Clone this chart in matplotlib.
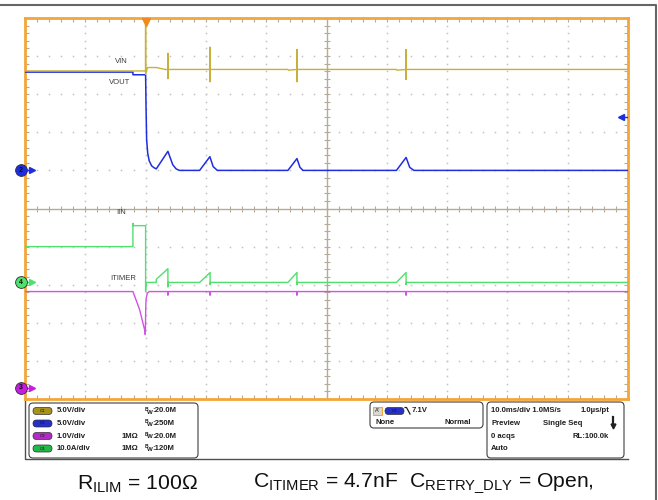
"""Scope capture: hiccup retry during output short (VIN, VOUT, IIN, ITIMER)."""

import numpy as np
import matplotlib
matplotlib.use("Agg")
import matplotlib.pyplot as plt
from matplotlib.patches import FancyBboxPatch, Rectangle

plt.rcParams['font.family'] = ['Liberation Sans', 'DejaVu Sans']
plt.rcParams['mathtext.fontset'] = 'custom'
plt.rcParams['mathtext.rm'] = 'Liberation Sans'
plt.rcParams['mathtext.bf'] = 'Liberation Sans:bold'

# Traces: time in ms (trigger at 0, 10 ms/div), level in screen divisions (0 = centre)
vin_t = [-20, 0, 0, 0, 0.3, 1.8, 3.2, 3.7, 3.7, 3.7, 3.7, 10.66, 10.66, 10.66, 10.66,
         23.6, 23.7, 25.1, 25.1, 25.1, 25.1, 41.6, 41.7, 43.2, 43.2, 43.2, 43.2, 80]
vin_y = [3.61, 3.61, 5.2, 3.52, 3.70, 3.70, 3.65, 3.65, 4.07, 3.41, 3.65, 3.65, 4.23, 3.33, 3.65,
         3.65, 3.63, 3.65, 4.17, 3.33, 3.65, 3.65, 3.63, 3.65, 4.17, 3.39, 3.65, 3.65]

vout_t = [-20, -2.1, -2.1, 0, 0.08, 0.17, 0.35, 0.6, 1.0, 1.4, 1.77, 3.7, 4.5, 5.06, 5.6,
          8.96, 10.66, 11.2, 11.9, 23.6, 25.1, 25.6, 26.1, 41.6, 43.2, 43.8, 44.5, 80]
vout_y = [3.58, 3.58, 3.51, 3.51, 2.6, 1.81, 1.45, 1.25, 1.12, 1.07, 1.04, 1.50, 1.15, 1.04, 1.0,
          1.0, 1.36, 1.10, 1.0, 1.0, 1.31, 1.08, 1.0, 1.0, 1.34, 1.08, 1.0, 1.0]

iin_t = [-20, -2.1, -2.1, -2.0, 0, 0, 0.05, 1.77, 1.77, 3.7, 3.7, 3.75, 8.96, 10.7, 10.7, 10.75,
         23.6, 25.1, 25.1, 25.15, 41.6, 43.2, 43.2, 43.25, 80]
iin_y = [-1.0, -1.0, -0.39, -0.45, -0.45, -2.18, -1.94, -1.94, -1.86, -1.58, -2.06, -1.94,
         -1.94, -1.68, -2.0, -1.94, -1.94, -1.68, -2.0, -1.94, -1.94, -1.68, -2.0, -1.94, -1.94]

itimer_t = [-20, -2.1, -1.0, -0.17, -0.05, 0.03, 0.1, 0.3, 0.6, 3.7, 3.7, 3.7, 10.7, 10.7, 10.7,
            25.1, 25.1, 25.1, 43.2, 43.2, 43.2, 80]
itimer_y = [-2.18, -2.18, -2.65, -3.18, -3.31, -2.55, -2.35, -2.22, -2.18, -2.18, -2.27, -2.18,
            -2.18, -2.27, -2.18, -2.18, -2.27, -2.18, -2.18, -2.27, -2.18, -2.18]

# channel ground markers (divisions) and trigger level
ch_names = ['2', '4', '3']
ch_levels = [1.0, -1.94, -4.70]
trig_level = 2.41

trace_labels = ['VIN', 'VOUT', 'IIN', 'ITIMER']
label_pos = [(-4.0, 3.86), (-4.3, 3.31), (-4.0, -0.10), (-3.7, -1.84)]

# readout panel text
ch_rows = [('C1', '5.0V/div', '', '20.0M'),
           ('C2', '5.0V/div', '', '250M'),
           ('C3', '1.0V/div', '1MΩ', '20.0M'),
           ('C4', '10.0A/div', '1MΩ', '120M')]
acq_left = ['10.0ms/div 1.0MS/s', 'Preview', '0 acqs', 'Auto']
acq_right = ['1.0µs/pt', '', 'RL:100.0k', '']

C_VIN = '#c8b13a'
C_VOUT = '#1f2de0'
C_IIN = '#4fe06e'
C_ITM = '#d251e6'
C_GRID = '#c2c2c2'
C_AXIS = '#b5ab98'
C_ORANGE = '#f3a63a'
PILL = {'C1': '#a8921a', 'C2': '#2430c8', 'C3': '#b42ac8', 'C4': '#22b848'}


def draw_graticule(ax):
    ax.set_xlim(-20, 80)
    ax.set_ylim(-5, 5)
    minor_t = np.arange(-20, 80.01, 2)
    minor_v = np.arange(-5, 5.01, 0.2)
    for t in np.arange(-10, 80, 10):
        if t != 30:
            ax.plot(np.full_like(minor_v, t), minor_v, ls='none', marker='s', ms=1.1,
                    mew=0, color=C_GRID, zorder=1)
    for v in np.arange(-4, 5, 1):
        if v != 0:
            ax.plot(minor_t, np.full_like(minor_t, v), ls='none', marker='s', ms=1.1,
                    mew=0, color=C_GRID, zorder=1)
    ax.axvline(30, color=C_AXIS, lw=1, zorder=1)
    ax.axhline(0, color=C_AXIS, lw=1, zorder=1)
    ax.plot(minor_t, np.zeros_like(minor_t), ls='none', marker='|', ms=4, mew=0.8,
            color=C_AXIS, zorder=1)
    ax.plot(np.full_like(minor_v, 30), minor_v, ls='none', marker='_', ms=4, mew=0.8,
            color=C_AXIS, zorder=1)
    ax.set_xticks(minor_t)
    ax.set_yticks(minor_v)
    ax.tick_params(which='both', direction='in', length=3, width=0.8, color=C_AXIS,
                   top=True, right=True, labelbottom=False, labelleft=False)
    for sp in ax.spines.values():
        sp.set_color(C_ORANGE)
        sp.set_linewidth(2)


def channel_marker(ax, y, num, color):
    ax.plot([-20.0, -18.9], [y, y], color=color, lw=1, clip_on=False, zorder=6)
    ax.plot(-18.8, y, marker='>', ms=4, color=color, clip_on=False, zorder=6)
    ax.plot(-20.7, y, marker='o', ms=8.5, mfc=color, mec='#303030', mew=0.6,
            clip_on=False, zorder=7)
    ax.text(-20.7, y, num, fontsize=5, ha='center', va='center', color='#101010',
            fontweight='bold', zorder=8, clip_on=False)


def pill(ov, x, y, name, w=19, h=7):
    ov.add_patch(FancyBboxPatch((x, y - h / 2), w, h, boxstyle='round,pad=0,rounding_size=3.5',
                                fc=PILL[name], ec='#303030', lw=0.5))
    ov.text(x + w / 2, y, name, fontsize=3.2, ha='center', va='center', color='#101010')


def bw_text(ov, x, y, value, tk):
    # Tek style "B over W" bandwidth tag
    ov.text(x, y - 1.8, 'B', fontsize=3.6, ha='left', va='center', fontweight='bold',
            color='#202020')
    ov.text(x + 2.2, y + 1.0, 'W', fontsize=4.4, ha='left', va='center', fontweight='bold',
            color='#202020')
    ov.text(x + 7.6, y, ':' + value, ha='left', **tk)


def draw_panel(ov):
    ov.plot([25, 25, 628], [399, 459, 459], color='#505050', lw=1)
    box = dict(boxstyle='round,pad=0,rounding_size=4', fc='white', ec='#404040', lw=0.8)
    ov.add_patch(FancyBboxPatch((29, 403), 169, 55, **box))
    ov.add_patch(FancyBboxPatch((370, 402), 113, 26, **box))
    ov.add_patch(FancyBboxPatch((487, 402), 137, 56, **box))

    tk = dict(fontsize=5.6, fontweight='bold', va='center', color='#202020')
    rows_y = [411, 423.5, 436, 448.5]
    for (name, vdiv, imp, bw), y in zip(ch_rows, rows_y):
        pill(ov, 33, y, name)
        ov.text(57, y, vdiv, ha='left', **tk)
        if imp:
            ov.text(122, y, imp, ha='left', **tk)
        bw_text(ov, 145, y, bw, tk)

    # trigger readout
    ov.add_patch(Rectangle((373, 407), 9, 8, fc='#d8d8d8', ec=C_ORANGE, lw=0.8))
    ov.text(377.5, 411, "A'", fontsize=4, ha='center', va='center', color='#202020')
    pill(ov, 385, 411, 'C2')
    ov.plot([405, 406.5, 410], [407.5, 407.5, 414], color='#202020', lw=0.9)
    ov.text(412, 411, '7.1V', ha='left', **tk)
    ov.text(376, 422, 'None', ha='left', **tk)
    ov.text(471, 422, 'Normal', ha='right', **tk)

    # acquisition readout
    for txt, rt, y in zip(acq_left, acq_right, rows_y):
        ov.text(491, y, txt, ha='left', **tk)
        if rt:
            ov.text(609, y, rt, ha='right', **tk)
    ov.text(543, rows_y[1], 'Single Seq', ha='left', **tk)
    ov.plot([613, 613], [417, 425], color='#202020', lw=1.6)
    ov.plot(613, 426, marker='v', ms=3.5, color='#202020')


def main():
    fig = plt.figure(figsize=(6.58, 5.0), dpi=100)

    ov = fig.add_axes([0, 0, 1, 1], zorder=0)
    ov.set_xlim(0, 658)
    ov.set_ylim(500, 0)
    ov.axis('off')

    ax = fig.add_axes([25 / 658, 101 / 500, 603 / 658, 381 / 500], zorder=1)
    draw_graticule(ax)

    ax.plot(vout_t, vout_y, color=C_VOUT, lw=1.1, zorder=3)
    ax.plot(vin_t, vin_y, color=C_VIN, lw=1.0, zorder=4)
    ax.plot(itimer_t, itimer_y, color=C_ITM, lw=1.0, zorder=3)
    ax.plot(iin_t, iin_y, color=C_IIN, lw=1.0, zorder=4)

    for lbl, (x, y) in zip(trace_labels, label_pos):
        ax.text(x, y, lbl, fontsize=5.5, ha='center', va='center', color='#3a3a3a', zorder=5)

    for name, lvl, col in zip(ch_names, ch_levels, [C_VOUT, C_IIN, '#c21fe0']):
        channel_marker(ax, lvl, name, col)

    # trigger position and level
    ax.plot(0, 4.9, marker='v', ms=5.5, color='#f08a1c', clip_on=False, zorder=6)
    ax.plot([79.0, 80], [trig_level, trig_level], color=C_VOUT, lw=1, zorder=6)
    ax.plot(78.8, trig_level, marker='<', ms=4, color=C_VOUT, zorder=6)

    draw_panel(ov)

    # outer document frame
    ov.plot([0, 656, 656], [5, 5, 500], color='#666666', lw=1.5)

    cap = dict(fontsize=15.2, ha='left', va='center', color='#101010')
    ov.text(77, 484, r'R$_{\mathrm{ILIM}}$ = 100Ω', **cap)
    ov.text(253, 484, r'C$_{\mathrm{ITIMER}}$ = 4.7nF  C$_{\mathrm{RETRY\_DLY}}$ = Open,', **cap)

    plt.savefig('out.png', dpi=100)
    plt.close()


if __name__ == '__main__':
    main()
